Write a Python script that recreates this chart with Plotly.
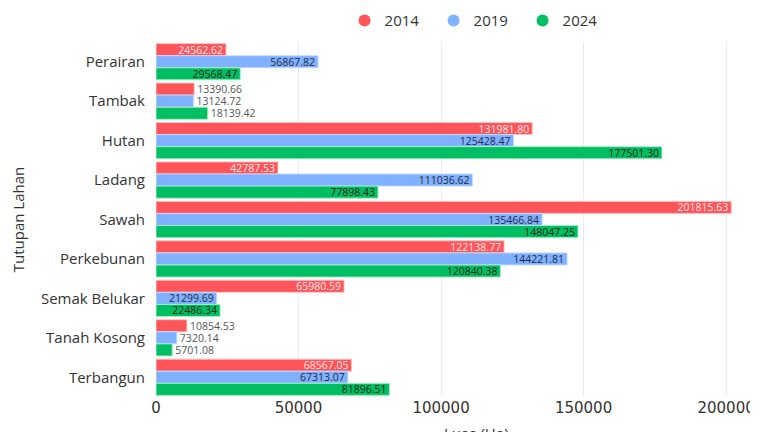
import plotly.graph_objects as go

categories = ["Perairan", "Tambak", "Hutan", "Ladang", "Sawah", "Perkebunan",
              "Semak Belukar", "Tanah Kosong", "Terbangun"]
years = ["2014", "2019", "2024"]
v2014 = [24562.62, 13390.66, 131981.80, 42787.53, 201815.63, 122138.77, 65980.59, 10854.53, 68567.05]
v2019 = [56867.82, 13124.72, 125428.47, 111036.62, 135466.84, 144221.81, 21299.69, 7320.14, 67313.07]
v2024 = [29568.47, 18139.42, 177501.30, 77898.43, 148047.25, 120840.38, 22486.34, 5701.08, 81896.51]
x_ticks = [0, 50000, 100000, 150000, 200000]

colors = ["#ff5459", "#80b1ff", "#00bf63"]
inside_colors = ["#ffe8e8", "#1e2b4a", "#0b2a18"]
outline = ["rgba(255,200,200,0.9)", "rgba(200,220,255,0.9)", "rgba(170,240,200,0.9)"]
FONT = "Open Sans"
INSIDE_MIN = 20000  # bars shorter than this get their label outside

fig = go.Figure()
for name, vals, c, ic, oc in zip(years, [v2014, v2019, v2024], colors, inside_colors, outline):
    fig.add_trace(go.Bar(
        y=categories, x=vals, name=name, orientation="h",
        marker=dict(color=c, line=dict(color=oc, width=1)),
        texttemplate="%{x:.2f}",
        textposition=["inside" if v >= INSIDE_MIN else "outside" for v in vals],
        insidetextanchor="end",
        insidetextfont=dict(color=ic, size=10.5, family=FONT),
        outsidetextfont=dict(color="#555555", size=10.5, family=FONT),
        textangle=0,
        cliponaxis=False,
        showlegend=False,
    ))
    fig.add_trace(go.Scatter(
        x=[None], y=[None], mode="markers", name=name,
        marker=dict(color=c, size=14, symbol="circle"),
        showlegend=True,
    ))

fig.add_annotation(text="Luas (Ha)", xref="paper", yref="paper", x=0.533, y=-0.068,
                   xanchor="center", yanchor="top", showarrow=False,
                   font=dict(size=15, color="#333333", family=FONT))

fig.update_layout(
    width=750, height=424,
    margin=dict(l=148, r=0, t=34, b=35, autoexpand=False),
    barmode="group", bargap=0.08, bargroupgap=0.0,
    plot_bgcolor="white", paper_bgcolor="white",
    font=dict(family=FONT, size=15, color="#333333"),
    uniformtext=dict(minsize=10, mode="show"),
    legend=dict(orientation="h", x=0.535, xanchor="center", y=1.06, yanchor="middle",
                font=dict(size=15, color="#333333"),
                entrywidth=44, entrywidthmode="pixels", itemsizing="constant"),
    xaxis=dict(range=[0, 211200], tickvals=x_ticks, ticktext=[str(t) for t in x_ticks],
               showgrid=True, gridcolor="#ebebeb", zeroline=False,
               tickfont=dict(size=15, color="#333333", family="DejaVu Sans"),
               ticklabeloverflow="allow",
               automargin=False),
    yaxis=dict(autorange="reversed", showgrid=False, zeroline=False,
               tickfont=dict(size=15, color="#333333"), ticks="", ticklen=0,
               ticklabelstandoff=10,
               title=dict(text="Tutupan Lahan", font=dict(size=15), standoff=22),
               automargin=False),
)

fig.write_html("out.html")
